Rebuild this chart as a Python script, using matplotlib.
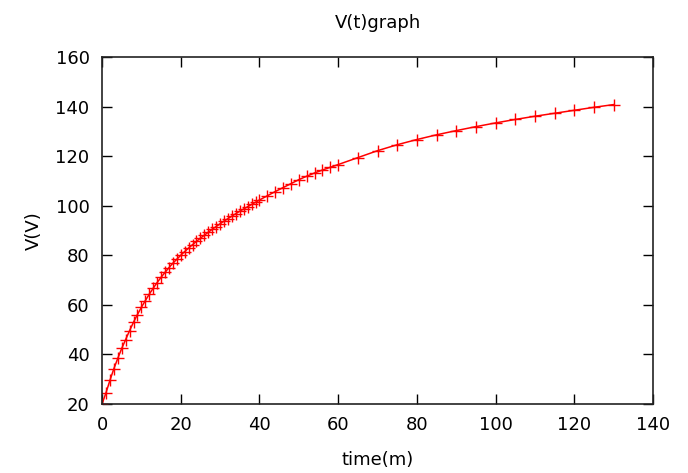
import numpy as np
import matplotlib.pyplot as plt

plt.rcParams['font.family'] = ['DejaVu Sans']

# time in minutes, voltage in volts
t = [0, 1, 2, 3, 4, 5, 6, 7, 8, 9, 10,
     11, 12, 13, 14, 15, 16, 17, 18, 19, 20,
     21, 22, 23, 24, 25, 26, 27, 28, 29, 30,
     31, 32, 33, 34, 35, 36, 37, 38, 39, 40,
     42, 44, 46, 48, 50, 52, 54, 56, 58, 60,
     65, 70, 75, 80, 85, 90, 95, 100, 105, 110, 115, 120, 125, 130]
v = [20.0, 24.5, 29.5, 34.2, 38.4, 42.4, 46.0, 49.6, 53.0, 56.1, 59.0,
     61.7, 64.3, 66.7, 69.0, 71.1, 73.1, 75.0, 76.8, 78.4, 80.0,
     81.5, 82.9, 84.3, 85.6, 86.9, 88.1, 89.3, 90.5, 91.6, 92.7,
     93.8, 94.8, 95.8, 96.8, 97.8, 98.7, 99.6, 100.5, 101.4, 102.3,
     104.0, 105.7, 107.3, 108.9, 110.5, 111.9, 113.2, 114.4, 115.5, 116.6,
     119.4, 122.2, 124.6, 126.7, 128.6, 130.3, 131.9, 133.4, 134.8, 136.1,
     137.3, 138.5, 139.7, 140.8]

xticks = [0, 20, 40, 60, 80, 100, 120, 140]
yticks = [20, 40, 60, 80, 100, 120, 140, 160]

fig = plt.figure(figsize=(6.88, 4.73), dpi=100)
ax = fig.add_axes([0.1483, 0.1459, 0.8008, 0.7336])

ax.plot(t, v, color='#ff0000', linewidth=1.1, marker='+',
        markersize=8, markeredgewidth=1.0)

ax.set_xlim(0, 140)
ax.set_ylim(20, 160)
ax.set_xticks(xticks)
ax.set_yticks(yticks)
ax.tick_params(direction='in', length=7, width=1.0, top=True, right=True,
               labelsize=13, pad=9, colors='black')
for s in ax.spines.values():
    s.set_linewidth(1.2)
    s.set_color('#222222')

ax.set_title('V(t)graph', fontsize=13, pad=21)
ax.set_xlabel('time(m)', fontsize=13, labelpad=12)
ax.set_ylabel('V(V)', fontsize=13, labelpad=9)

fig.savefig('out.png', dpi=100)
